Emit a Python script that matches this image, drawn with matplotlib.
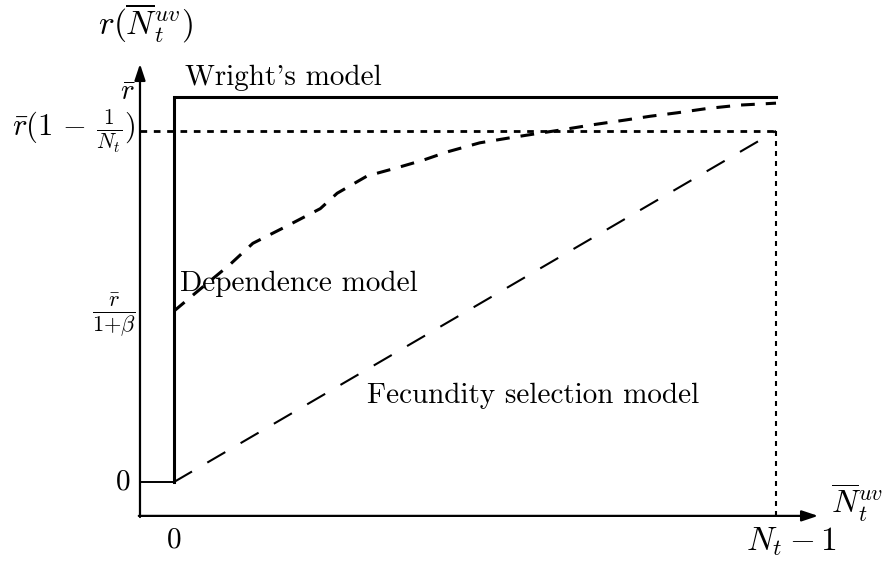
import matplotlib
matplotlib.use("Agg")
import matplotlib.pyplot as plt
from matplotlib.patches import FancyArrowPatch

plt.rcParams['mathtext.fontset'] = 'cm'
plt.rcParams['font.family'] = ['cmr10', 'DejaVu Serif']
plt.rcParams['axes.unicode_minus'] = False

# ---- data (normalised: x in [0, 1] = [0, N_t-1], y in units of r-bar) ----
r_bar = 1.0
r_reduced = 0.912          # r̄(1 - 1/N_t)
r_dep0 = 0.444             # r̄/(1+β)

wright_x = [-0.0565, 0.0, 0.0, 1.0]
wright_y = [0.0, 0.0, 1.0, 1.0]

dep_x = [0.0, 0.035, 0.093, 0.131, 0.184, 0.243, 0.271, 0.321, 0.370, 0.414,
         0.453, 0.508, 0.558, 0.603, 0.641, 0.696, 0.749, 0.791, 0.836, 0.885,
         0.940, 1.0]
dep_y = [0.444, 0.490, 0.565, 0.620, 0.662, 0.710, 0.750, 0.795, 0.816, 0.836,
         0.857, 0.881, 0.894, 0.905, 0.914, 0.928, 0.940, 0.950, 0.959, 0.970,
         0.979, 0.984]

fec_x = [0.0, 1.0]
fec_y = [0.0, 0.912]

ref_h_x = [-0.0565, 1.0]
ref_h_y = [r_reduced, r_reduced]
ref_v_x = [1.0, 1.0]
ref_v_y = [r_reduced, -0.088]

fig = plt.figure(figsize=(8.85, 5.66), dpi=100)
ax = fig.add_axes([0, 0, 1, 1])
ax.set_xlim(-174 / 602, (885 - 174) / 602)
ax.set_ylim((482 - 566) / 385, 482 / 385)
ax.axis('off')

x_axis_y = -0.088
y_axis_x = -0.0565
x_end = 1.07
y_end = 1.086

# axes with arrows
for start, end in [((y_axis_x - 0.002, x_axis_y), (x_end, x_axis_y)),
                   ((y_axis_x, x_axis_y - 0.003), (y_axis_x, y_end))]:
    arr = FancyArrowPatch(start, end, arrowstyle='-|>,head_length=0.75,head_width=0.25',
                          mutation_scale=13, lw=1.6, color='black',
                          shrinkA=0, shrinkB=0)
    ax.add_patch(arr)

# Wright's model
ax.plot(wright_x[1:], wright_y[1:], color='black', lw=2.2, solid_joinstyle='miter')
ax.plot(wright_x[:2], wright_y[:2], color='black', lw=1.4)

# dotted reference lines
ax.plot(ref_h_x, ref_h_y, color='black', lw=2.0, dashes=(2.4, 2.4))
ax.plot(ref_v_x, ref_v_y, color='black', lw=1.5, dashes=(2.4, 2.4))

# dependence model
ax.plot(dep_x, dep_y, color='black', lw=2.2, dashes=(4.5, 3.6))

# fecundity selection model
ax.plot(fec_x, fec_y, color='black', lw=1.5, dashes=(10, 8.5))

fs = 21
ms = 21
ax.text(0.018, 1.03, "Wright's model", fontsize=fs, ha='left', va='baseline')
ax.text(0.01, 0.515, "Dependence model", fontsize=fs, ha='left', va='center')
ax.text(0.321, 0.225, "Fecundity selection model", fontsize=fs, ha='left', va='center')

ax.text(-0.076, 1.01, r'$\bar{r}$', fontsize=ms, ha='center', va='center')
ax.text(-0.065, r_reduced, r'$\bar{r}(1\,-\,\frac{1}{N_t})$', fontsize=ms + 1, ha='right', va='center')
ax.text(-0.064, r_dep0 - 0.01, r'$\frac{\bar{r}}{1{+}\beta}$', fontsize=ms + 2, ha='right', va='center')
ax.text(-0.072, 0.0, r'$0$', fontsize=ms, ha='right', va='center')
ax.text(-0.0, -0.118, r'$0$', fontsize=ms, ha='center', va='top')
ax.text(1.025, -0.113, r'$N_t-1$', fontsize=ms + 3, ha='center', va='top')
ax.text(1.092, -0.055, r'$\overline{N}_t^{uv}$', fontsize=ms + 2, ha='left', va='center')
ax.text(-0.048, 1.19, r'$r(\overline{N}_t^{uv})$', fontsize=ms + 3, ha='center', va='center')

fig.savefig('out.png', dpi=100)
